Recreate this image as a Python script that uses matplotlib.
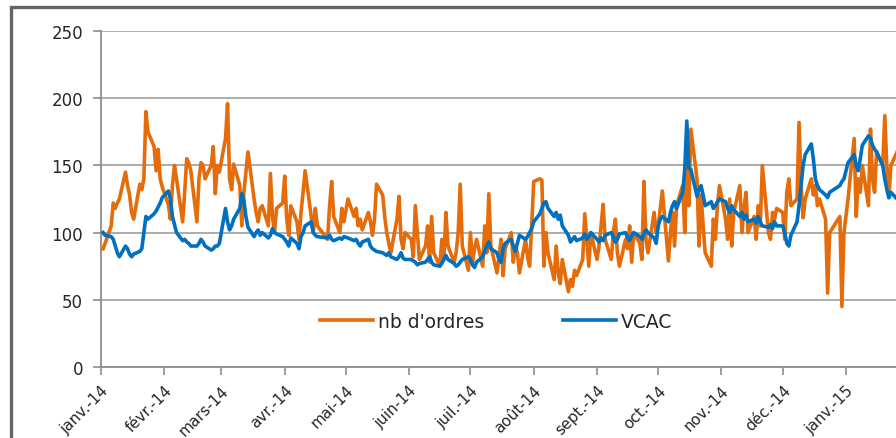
import numpy as np
import pandas as pd
import matplotlib
matplotlib.use("Agg")
import matplotlib.pyplot as plt
import matplotlib.dates as mdates
from matplotlib.patches import Rectangle

# ---------------- data ----------------
months = ["2014-01", "2014-02", "2014-03", "2014-04", "2014-05", "2014-06",
          "2014-07", "2014-08", "2014-09", "2014-10", "2014-11", "2014-12",
          "2015-01"]
holidays = ["2014-01-01", "2014-04-18", "2014-04-21", "2014-05-01",
            "2014-12-25", "2014-12-26", "2015-01-01"]

ordres_jan14 = [88, 92, 105, 122, 118, 122, 125, 145, 135, 128, 115, 110, 136, 132, 140, 190, 175, 164, 146, 162, 140, 134]
ordres_feb14 = [121, 110, 135, 150, 140, 108, 130, 155, 152, 146, 108, 140, 152, 150, 140, 150, 164, 129, 150, 145]
ordres_mar14 = [170, 196, 140, 132, 151, 135, 105, 130, 145, 160, 125, 115, 108, 118, 120, 105, 144, 112, 100, 118, 122]
ordres_apr14 = [142, 110, 98, 120, 108, 95, 115, 130, 146, 112, 100, 118, 105, 95, 120, 138, 112, 100, 118, 108]
ordres_may14 = [125, 112, 118, 105, 110, 102, 115, 108, 98, 110, 136, 128, 112, 100, 92, 85, 110, 127, 95, 88, 100]
ordres_jun14 = [95, 82, 120, 100, 80, 90, 105, 78, 112, 85, 75, 95, 80, 115, 90, 78, 85, 100, 136, 90, 72]
ordres_jul14 = [100, 78, 88, 95, 75, 105, 85, 129, 90, 70, 82, 95, 68, 88, 100, 78, 90, 85, 70, 95, 82, 75, 105]
ordres_aug14 = [138, 140, 139, 75, 100, 85, 65, 90, 70, 62, 80, 56, 65, 60, 72, 68, 80, 114, 95, 75, 100]
ordres_sep14 = [80, 90, 105, 121, 95, 80, 100, 110, 85, 75, 95, 88, 105, 78, 100, 92, 80, 138, 95, 85, 115, 100]
ordres_oct14 = [105, 118, 131, 79, 100, 115, 90, 120, 135, 100, 150, 120, 177, 140, 90, 128, 105, 85, 75, 110, 95, 120, 135]
ordres_nov14 = [110, 95, 125, 90, 115, 135, 100, 118, 130, 100, 112, 95, 120, 105, 150, 100, 95, 115, 110, 118]
ordres_dec14 = [115, 95, 130, 140, 120, 125, 182, 135, 111, 125, 140, 128, 135, 120, 125, 110, 55, 100, 112, 45, 100]
ordres_jan15 = [125, 170, 112, 140, 130, 150, 120, 177, 140, 130, 160, 150, 187, 150, 126, 150, 160, 145]

vcac_jan14 = [100, 98, 97, 95, 90, 85, 82, 90, 88, 84, 82, 84, 86, 88, 100, 112, 110, 114, 116, 119, 122, 126]
vcac_feb14 = [131, 125, 112, 106, 100, 94, 95, 93, 92, 90, 90, 92, 95, 93, 90, 87, 88, 90, 90, 92]
vcac_mar14 = [118, 108, 102, 105, 110, 118, 129, 124, 112, 104, 97, 100, 102, 98, 100, 96, 98, 103, 100, 99, 97]
vcac_apr14 = [95, 93, 90, 96, 92, 88, 97, 100, 105, 108, 100, 98, 97, 96, 98, 95, 94, 96, 95, 97]
vcac_may14 = [96, 94, 95, 92, 90, 93, 95, 90, 88, 87, 86, 85, 84, 83, 85, 82, 80, 82, 85, 81, 80]
vcac_jun14 = [80, 79, 78, 76, 77, 78, 80, 82, 78, 76, 75, 77, 80, 83, 80, 77, 75, 76, 78, 80, 82]
vcac_jul14 = [80, 76, 74, 78, 82, 86, 90, 93, 88, 85, 80, 78, 88, 92, 95, 90, 86, 92, 98, 95, 97, 100, 103]
vcac_aug14 = [108, 114, 118, 122, 123, 118, 112, 115, 110, 113, 105, 98, 93, 95, 97, 94, 96, 99, 95, 97, 100]
vcac_sep14 = [95, 93, 96, 94, 98, 100, 97, 93, 95, 99, 100, 96, 94, 98, 100, 97, 95, 99, 102, 100, 96, 92]
vcac_oct14 = [105, 110, 112, 108, 115, 120, 123, 118, 130, 147, 183, 148, 147, 127, 132, 135, 128, 120, 123, 118, 120, 123, 125]
vcac_nov14 = [123, 118, 115, 120, 117, 112, 115, 110, 113, 108, 110, 107, 112, 108, 105, 104, 106, 103, 108, 105]
vcac_dec14 = [105, 100, 92, 90, 98, 108, 120, 135, 150, 158, 166, 155, 140, 135, 132, 128, 126, 130, 135, 138, 140]
vcac_jan15 = [152, 158, 150, 146, 155, 165, 172, 170, 165, 162, 160, 150, 140, 132, 126, 130, 125, 128]

ordres_months = [ordres_jan14, ordres_feb14, ordres_mar14, ordres_apr14, ordres_may14, ordres_jun14,
                 ordres_jul14, ordres_aug14, ordres_sep14, ordres_oct14, ordres_nov14, ordres_dec14, ordres_jan15]
vcac_months = [vcac_jan14, vcac_feb14, vcac_mar14, vcac_apr14, vcac_may14, vcac_jun14,
               vcac_jul14, vcac_aug14, vcac_sep14, vcac_oct14, vcac_nov14, vcac_dec14, vcac_jan15]

month_labels = ["janv.-14", "févr.-14", "mars-14", "avr.-14", "mai-14", "juin-14",
                "juil.-14", "août-14", "sept.-14", "oct.-14", "nov.-14", "déc.-14",
                "janv.-15"]
yticks = [0, 50, 100, 150, 200, 250]

# ---------------- build series ----------------
hol = pd.to_datetime(holidays)
dates, ordres, vcac = [], [], []
for m, o, v in zip(months, ordres_months, vcac_months):
    start = pd.Timestamp(m + "-01")
    days = pd.bdate_range(start, start + pd.offsets.MonthEnd(0))
    days = days[~days.isin(hol)]
    n = min(len(o), len(v), len(days))
    dates.extend(days[:n]); ordres.extend(o[:n]); vcac.extend(v[:n])
dates = pd.DatetimeIndex(dates)

# ---------------- figure ----------------
W, H = 896, 439
fig = plt.figure(figsize=(W / 100, H / 100), dpi=100)
fig.patch.set_facecolor("white")

# outer chart frame (cropped on right and bottom)
fig.patches.append(Rectangle((11 / W, -0.2), 1.2, (439 - 8) / H + 0.2,
                             transform=fig.transFigure, fill=False,
                             edgecolor="#646464", linewidth=2.4))

ax = fig.add_axes([101 / W, (H - 368) / H, 1 - 101 / W, (368 - 32) / H])
ax.set_facecolor("none")

orange = "#E46C0A"
blue = "#0070C0"
ax.plot(dates, ordres, color=orange, lw=2.6, label="nb d'ordres", solid_joinstyle="round", zorder=3)
ax.plot(dates, vcac, color=blue, lw=2.6, label="VCAC", solid_joinstyle="round", zorder=4)

tick_dates = pd.date_range("2014-01-01", periods=len(month_labels), freq="MS")
ax.set_xticks(tick_dates)
ax.set_xticklabels(month_labels)

x0 = pd.Timestamp("2014-01-01")
ax.set_xlim(x0, x0 + pd.Timedelta(days=389.5))
ax.set_ylim(0, 250)

ax.set_yticks(yticks)
ax.yaxis.grid(True, color="#A6A6A6", lw=1.3)
ax.set_axisbelow(True)

for s in ["top", "right"]:
    ax.spines[s].set_visible(False)
for s in ["left", "bottom"]:
    ax.spines[s].set_color("#8C8C8C")
    ax.spines[s].set_linewidth(1.3)

ax.tick_params(axis="y", length=6, width=1.2, color="#8C8C8C", pad=7,
               labelsize=12, labelcolor="#262626")
ax.tick_params(axis="x", length=6, width=1.2, color="#8C8C8C", pad=5,
               labelsize=11, labelcolor="#262626")
for lab in ax.get_xticklabels():
    lab.set_rotation(45)
    lab.set_ha("right")
    lab.set_va("top")
    lab.set_rotation_mode("anchor")

leg = ax.legend(loc="center left", bbox_to_anchor=(320 / W, 1 - 322 / H),
                bbox_transform=fig.transFigure, ncol=2, frameon=False,
                fontsize=13.5, handlelength=2.8, handletextpad=0.3,
                columnspacing=4.2, borderpad=0, borderaxespad=0)
for t in leg.get_texts():
    t.set_color("#262626")

fig.savefig("out.png", dpi=100)
